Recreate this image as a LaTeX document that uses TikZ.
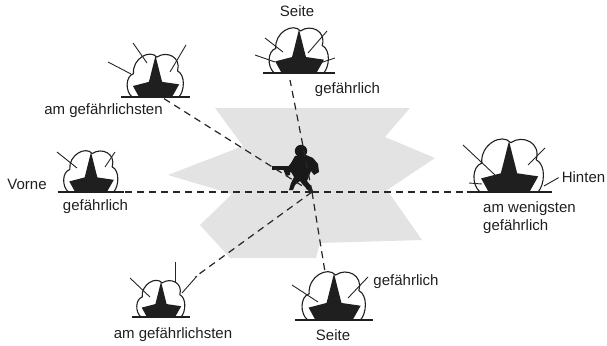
\documentclass[tikz,border=0pt]{standalone}
\usepackage{fontspec}
\setmainfont{Liberation Sans}
\begin{document}
\begin{tikzpicture}[x=1pt,y=-1pt,
  ink/.style={draw=black!88,line width=1.1pt},
  cloudline/.style={draw=black!88,line width=1.1pt,line join=round},
  burstfill/.style={fill=black!88},
  ray/.style={draw=black!85,line width=0.9pt},
  fireline/.style={draw=black!85,line width=1.2pt,dash pattern=on 7pt off 5pt},
  zone/.style={fill=black!11},
  lbl/.style={font=\fontsize{15}{17}\selectfont,text=black!88,inner sep=0pt},
  burst/.pic={
    % cloud of the explosion, open at the ground
    \draw[cloudline] (-0.85,0)
      .. controls (-1.1,0.2) and (-1.1,0.75) .. (-0.8,0.85)
      .. controls (-0.85,1.4) and (-0.2,1.75) .. (0.05,1.45)
      .. controls (0.4,1.7) and (0.95,1.45) .. (0.8,0.95)
      .. controls (1.1,0.8) and (1.05,0.2) .. (0.85,0);
    % flash
    \fill[burstfill] (-0.6,0) -- (-0.82,0.4) -- (-0.24,0.55) -- (0,1.5)
      -- (0.24,0.55) -- (0.86,0.46) -- (0.6,0) -- cycle;
    % ground
    \draw[ink] (-1.25,0) -- (1.25,0);
  }]
\useasboundingbox (0,0) rectangle (607,345);

% danger zone around the soldier
\fill[zone] (215,108) -- (410,108) -- (385,137) -- (435,158) -- (387,190)
  -- (422,240) -- (320,243) -- (316,258) -- (230,258) -- (200,225)
  -- (232,194) -- (168,175) -- (243,146) -- cycle;

% bursts
\pic[xscale=27.5,yscale=-27.5] (tl) at (155.5,97) {burst};
\pic[xscale=29,yscale=-29] (tp) at (299,73) {burst};
\pic[xscale=26.5,yscale=-26.5] (lf) at (91,192) {burst};
\pic[xscale=34,yscale=-34] (rt) at (509,192) {burst};
\pic[xscale=23.5,yscale=-23.5] (bl) at (161,317) {burst};
\pic[xscale=31,yscale=-31] (bt) at (334,320) {burst};

% splinter rays
\draw[ray] (108,62) -- (131,74);
\draw[ray] (133,43) -- (147,63);
\draw[ray] (186,45) -- (170,72);
\draw[ray] (255,55) -- (275,62);
\draw[ray] (265,38) -- (283,52);
\draw[ray] (327,31) -- (308,53);
\draw[ray] (335,58) -- (320,63);
\draw[ray] (57,152) -- (77,168);
\draw[ray] (115,152) -- (105,167);
\draw[ray] (463,145) -- (495,175);
\draw[ray] (545,148) -- (528,165);
\draw[ray] (469,183) -- (482,184);
\draw[ray] (175,262) -- (175,283);
\draw[ray] (130,278) -- (150,297);
\draw[ray] (197,276) -- (182,293);
\draw[ray] (292,285) -- (318,302);
\draw[ray] (368,277) -- (348,298);

% anchor points of the lines of fire
\coordinate (c) at (312,192);
\coordinate (eTL) at (163,98);
\coordinate (eT) at (290,80);
\coordinate (eL) at (124,192);
\coordinate (eR) at (475,192);
\coordinate (eBL) at (195,277);
\coordinate (eB) at (325,272);

% soldier
\fill[black!90] (301,151) circle (6.2);
\fill[black!90] (295,156) -- (306,155) -- (313,158) -- (318,164) -- (319,172)
  -- (314,175) -- (311,171) -- (309,176) -- (307,181) -- (311,186) -- (313,191)
  -- (309,191) -- (303,185) -- (300,181) -- (295,185) -- (293,190) -- (289,190)
  -- (291,183) -- (294,177) -- (291,172) -- (288,173) -- (287,168) -- (291,163) -- cycle;
\fill[black!90] (272,165.5) rectangle (293,170);
\fill[black!90] (283,169) -- (286,176) -- (290,175) -- (290,169) -- cycle;

% lines of fire
\draw[fireline] (c) -- (eTL);
\draw[fireline] (c) -- (eT);
\draw[fireline] (c) -- (eL);
\draw[fireline] (c) -- (eR);
\draw[fireline] (c) -- (eBL);
\draw[fireline] (c) -- (eB);

% labels
\node[lbl,anchor=base] (l1) at (103.5,114) {am gefährlichsten};
\node[lbl,anchor=base] (l2) at (297,17) {Seite};
\node[lbl,anchor=base] (l3) at (347.5,93) {gefährlich};
\node[lbl,anchor=base] (l4) at (27,189) {Vorne};
\node[lbl,anchor=base] (l5) at (95.5,210) {gefährlich};
\node[lbl,anchor=base] (l6) at (583.5,182) {Hinten};
\node[lbl,anchor=base west] (l7) at (483,212) {am wenigsten};
\node[lbl,anchor=base west] (l8) at (483,230) {gefährlich};
\node[lbl,anchor=base] (l9) at (173,338) {am gefährlichsten};
\node[lbl,anchor=base] (l10) at (406,285) {gefährlich};
\node[lbl,anchor=base] (l11) at (333,340) {Seite};
\draw[ray] (l6.west) ++(-3,1) -- (544,186);
\end{tikzpicture}
\end{document}
